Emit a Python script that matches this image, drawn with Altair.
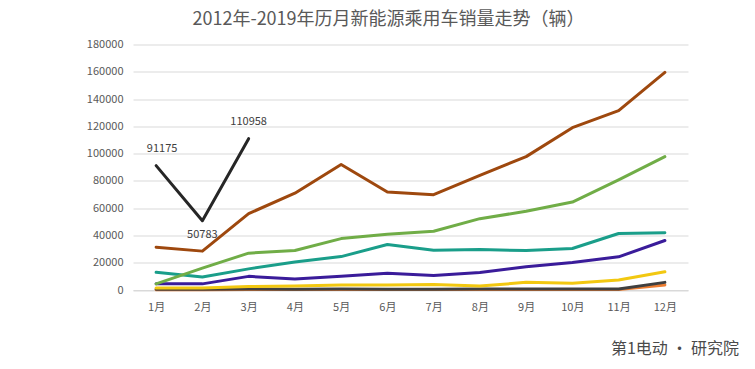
import altair as alt
import pandas as pd

months = ["1月", "2月", "3月", "4月", "5月", "6月", "7月", "8月", "9月", "10月", "11月", "12月"]

s2019 = [91175, 50783, 110958]
s2018 = [31400, 28500, 56000, 71000, 92000, 71800, 69900, 84000, 97800, 119000, 131500, 159500]
s2017 = [4500, 16000, 27000, 29000, 37700, 40900, 43100, 52300, 57700, 64500, 80800, 97800]
s2016 = [13000, 9500, 15500, 20500, 24500, 33400, 29200, 29700, 28900, 30400, 41400, 41900]
s2015 = [4500, 4500, 10000, 8000, 10000, 12200, 10700, 12900, 17000, 20200, 24300, 36300]
s2014 = [1500, 1500, 2500, 3000, 3700, 3600, 4100, 2900, 5600, 4900, 7300, 13400]
s2013 = [600, 500, 700, 600, 700, 600, 600, 700, 700, 700, 800, 5600]
s2012 = [200, 200, 300, 300, 300, 300, 300, 300, 300, 300, 400, 3700]

series = {
    "2012": s2012, "2013": s2013, "2014": s2014, "2015": s2015,
    "2016": s2016, "2017": s2017, "2018": s2018, "2019": s2019,
}
years = list(series.keys())
colors = ["#ED7D31", "#404040", "#F2C811", "#3A1C9A", "#1A9E8A", "#70AD47", "#9E480E", "#262626"]

rows = []
for yr, vals in series.items():
    for i, v in enumerate(vals):
        rows.append({"year": yr, "month": months[i], "value": v, "ord": years.index(yr)})
df = pd.DataFrame(rows)

FONT = "Noto Sans CJK SC"

x = alt.X("month:N", sort=months, title=None,
          scale=alt.Scale(type="point", padding=0.5),
          axis=alt.Axis(labelAngle=0, ticks=False, domainColor="#D9D9D9", grid=False,
                        labelColor="#595959", labelFontSize=11, labelFont=FONT, labelPadding=11))
y = alt.Y("value:Q", title=None,
          scale=alt.Scale(domain=[0, 180000], nice=False),
          axis=alt.Axis(values=list(range(0, 180001, 20000)), format="d", domain=False, ticks=False,
                        gridColor="#D9D9D9", labelColor="#595959", labelFontSize=11,
                        labelFont=FONT, labelPadding=10))

lines = alt.Chart(df).mark_line(strokeWidth=3, strokeCap="round", strokeJoin="round").encode(
    x=x, y=y,
    color=alt.Color("year:N", scale=alt.Scale(domain=years, range=colors), legend=None),
    order=alt.Order("ord:Q"),
)

lab = df[df["year"] == "2019"].copy()
lab["label"] = lab["value"].astype(str)

lab1 = alt.Chart(lab[lab["month"] == "1月"]).mark_text(
    dy=-17, dx=6, fontSize=11, color="#404040", font=FONT
).encode(x=x, y=y, text="label:N")
lab3 = alt.Chart(lab[lab["month"] == "3月"]).mark_text(
    dy=-17, fontSize=11, color="#404040", font=FONT
).encode(x=x, y=y, text="label:N")
lab2 = alt.Chart(lab[lab["month"] == "2月"]).mark_text(
    dy=14, fontSize=11, color="#404040", font=FONT
).encode(x=x, y=y, text="label:N")

wm = alt.Chart(pd.DataFrame({"t": ["第1电动 · 研究院"]})).mark_text(
    align="right", baseline="middle", fontSize=16, color="#4a4a4a", font=FONT
).encode(x=alt.value(606), y=alt.value(304), text="t:N")

chart = alt.layer(lines, lab1, lab3, lab2, wm).properties(
    width=555, height=245.5,
    title=alt.TitleParams("2012年-2019年历月新能源乘用车销量走势（辆）", font=FONT, fontSize=18,
                          fontWeight="normal", color="#595959", anchor="middle", offset=10, dx=-22),
    autosize=alt.AutoSizeParams(type="none"),
    padding={"left": 125, "top": 36.5, "right": 59, "bottom": 71},
).configure_view(stroke=None).configure_axis(gridWidth=1)

chart.save("out.html", embed_options={"renderer": "svg", "actions": False})
